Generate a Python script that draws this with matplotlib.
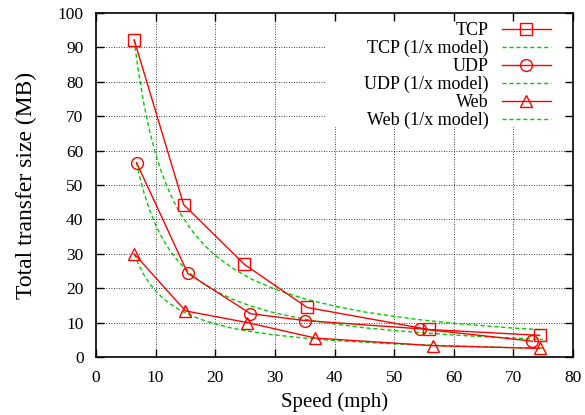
import matplotlib
matplotlib.use("Agg")
import matplotlib.pyplot as plt
from matplotlib.patches import Rectangle

# Measured data
tcp_x = [6.4, 14.7, 24.9, 35.4, 55.8, 74.4]
tcp_y = [92.2, 44.3, 26.9, 14.4, 8.0, 6.3]
udp_x = [6.8, 15.4, 25.9, 35.0, 54.3, 73.2]
udp_y = [56.5, 24.3, 12.6, 10.6, 8.2, 4.6]
web_x = [6.4, 15.0, 25.4, 36.8, 56.5, 74.4]
web_y = [30.0, 13.4, 10.0, 5.5, 3.3, 2.5]

# 1/x model curves
tcp_mx = [6.4, 7, 8, 9, 10, 11, 12, 13, 14, 16, 18, 20, 23, 26, 30, 35, 40, 45, 50, 55, 60, 65, 70, 75]
tcp_my = [92.2, 84.3, 73.8, 65.6, 59.0, 53.6, 49.2, 45.4, 42.1, 36.9, 32.8, 29.5, 25.7, 22.7, 19.7, 16.9, 14.8, 13.1, 11.8, 10.7, 9.8, 9.1, 8.4, 7.9]
udp_mx = [6.8, 7.5, 8, 9, 10, 11, 12, 13, 14, 16, 18, 20, 23, 26, 30, 35, 40, 45, 50, 55, 60, 65, 70, 75]
udp_my = [56.5, 51.2, 48.0, 42.7, 38.4, 34.9, 32.0, 29.5, 27.4, 24.0, 21.3, 19.2, 16.7, 14.8, 12.8, 11.0, 9.6, 8.5, 7.7, 7.0, 6.4, 5.9, 5.5, 5.1]
web_mx = [6.4, 7, 8, 9, 10, 11, 12, 13, 14, 16, 18, 20, 23, 26, 30, 35, 40, 45, 50, 55, 60, 65, 70, 75]
web_my = [30.0, 27.4, 24.0, 21.3, 19.2, 17.5, 16.0, 14.8, 13.7, 12.0, 10.7, 9.6, 8.3, 7.4, 6.4, 5.5, 4.8, 4.3, 3.8, 3.5, 3.2, 3.0, 2.7, 2.6]

xticks = [0, 10, 20, 30, 40, 50, 60, 70, 80]
yticks = [0, 10, 20, 30, 40, 50, 60, 70, 80, 90, 100]

plt.rcParams['font.family'] = ['Liberation Serif', 'DejaVu Serif']

fig = plt.figure(figsize=(5.85, 4.15), dpi=100)
ax = fig.add_axes([96/585, 1 - 357/415, (573-96)/585, (357-13)/415])

red = '#ff0000'
green = '#00cc00'
ms = 8.5
dash = (0, (3, 2))

ax.plot(tcp_x, tcp_y, color=red, lw=1.0, marker='s', ms=ms, mfc='none', mec=red, mew=1.0, label='TCP', zorder=3)
ax.plot(tcp_mx, tcp_my, color=green, lw=1.0, ls=dash, label='TCP (1/x model)', zorder=2)
ax.plot(udp_x, udp_y, color=red, lw=1.0, marker='o', ms=ms, mfc='none', mec=red, mew=1.0, label='UDP', zorder=3)
ax.plot(udp_mx, udp_my, color=green, lw=1.0, ls=dash, label='UDP (1/x model)', zorder=2)
ax.plot(web_x, web_y, color=red, lw=1.0, marker='^', ms=ms, mfc='none', mec=red, mew=1.0, label='Web', zorder=3)
ax.plot(web_mx, web_my, color=green, lw=1.0, ls=dash, label='Web (1/x model)', zorder=2)

ax.set_xlim(0, 80)
ax.set_ylim(0, 100)
ax.set_xticks(xticks)
ax.set_yticks(yticks)
ax.tick_params(direction='in', top=True, right=True, length=6, width=1, labelsize=12.5)
ax.tick_params(axis='y', pad=9)
ax.tick_params(axis='x', pad=9)

# dotted grid at the tick positions
gkw = dict(color='black', ls=(0, (1, 2)), lw=0.6, zorder=0.5)
ax.vlines(xticks[1:-1], 0, 100, **gkw)
ax.hlines(yticks[1:-1], 0, 80, **gkw)
# opaque key area hiding the grid
ax.add_patch(Rectangle((0.48, 0.669), 0.52, 0.331, transform=ax.transAxes,
                       facecolor='white', edgecolor='none', zorder=0.7))

for s in ax.spines.values():
    s.set_linewidth(1.2)

ax.set_xlabel('Speed (mph)', fontsize=15, labelpad=5)
ax.set_ylabel('Total transfer size (MB)', fontsize=17, labelpad=15)

leg = ax.legend(loc='upper right', bbox_to_anchor=(0.972, 1.0), markerfirst=False, frameon=False,
                fontsize=13, handlelength=2.7, handletextpad=0.75, labelspacing=0.05, borderpad=0.0)

fig.savefig('out.png', dpi=100)
